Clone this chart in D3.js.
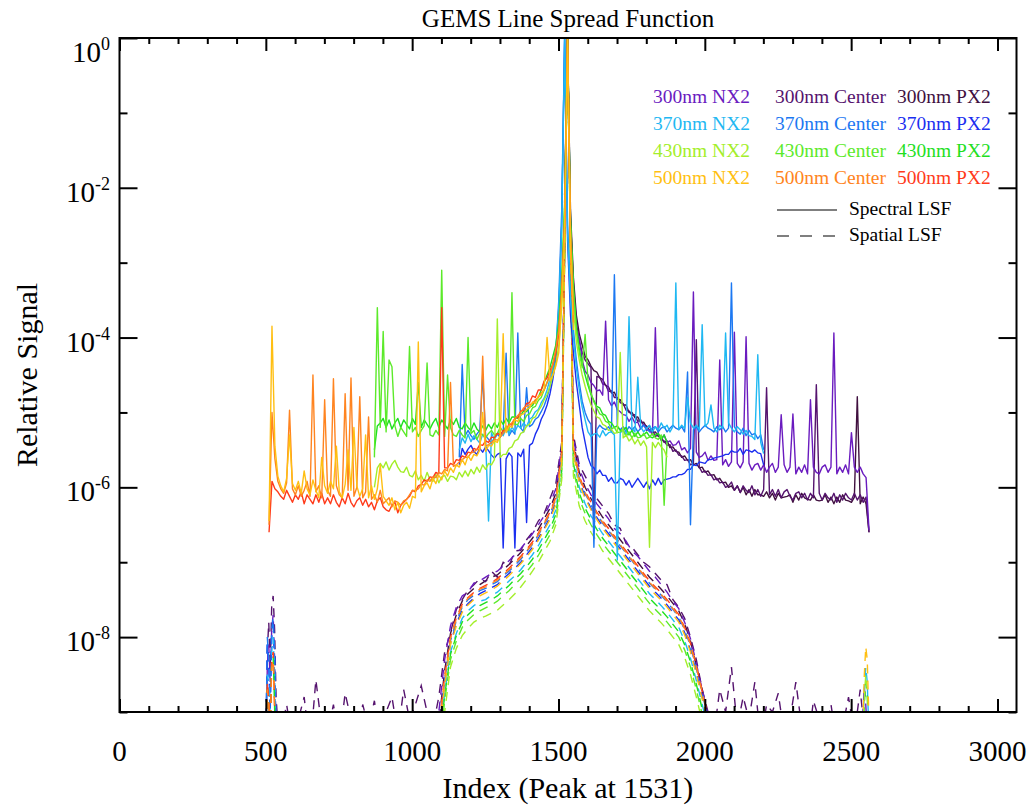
<!DOCTYPE html>
<html><head><meta charset="utf-8">
<script src="https://cdn.jsdelivr.net/npm/d3@7"></script>
<style>
body{margin:0;background:#fff}
text{font-family:"Liberation Serif","Times New Roman",serif}
</style></head>
<body><svg id="c" width="1027" height="805"></svg>
<script>
// ---------------- DATA (values are log10 of relative signal) ----------------
const xTickValues = [0,500,1000,1500,2000,2500,3000];
const yLabelExponents = [0,-2,-4,-6,-8];
const yTickExponents = [0,-1,-2,-3,-4,-5,-6,-7,-8,-9];
const wavelengths = ["300nm","370nm","430nm","500nm"];
const positions = ["NX2","Center","PX2"];
const specStep = 10;
const specStart = {"300nm":1521,"370nm":1161,"430nm":871,"500nm":511};
const spatStep = 20;
const spatStart = 1071;

const spec500NX2 = [
-6.45,-3.85,-5.45,-5.85,-5.98,-6.06,-5.88,-5.3,-5.95,-6.04,
-5.92,-6.08,-5.78,-6.02,-6.1,-5.9,-6.04,-6.14,-5.6,-5.98,
-6.08,-5.92,-6.02,-5.45,-6.06,-6.14,-5.96,-5.5,-6.04,-5.2,
-5.98,-6.12,-6.02,-5.3,-6.14,-5.98,-6.16,-6.02,-5.7,-6.12,
-6.18,-6.24,-6.14,-6.3,-6.2,-6.34,-6.24,-6.2,-6.28,-6.12,
-6.14,-4.06,-6.06,-5.98,-5.94,-6.02,-5.88,-5.95,-5.84,-5.9,
-5.78,-5.85,-5.74,-5.8,-5.7,-5.73,-5.63,-5.7,-5.58,-5.64,
-5.56,-5.58,-5.5,-5.0,-5.52,-5.44,-5.45,-5.38,-5.4,-5.3,
-3.95,-5.27,-5.18,-5.2,-5.1,-5.12,-5.03,-5.02,-4.96,-4.94,
-4.86,-4.88,-4.78,-4.77,-4.68,-4.0,-4.58,-4.5,-4.38,-4.2,
-3.5,-2.6,0,-2.8,-3.9];
const spec500Center = [
-6.5,-5.0,-5.62,-5.92,-6.02,-6.08,-5.94,-4.97,-6.02,-6.1,
-5.98,-6.12,-6.04,-5.92,-6.12,-4.5,-6.06,-5.98,-6.14,-4.83,
-6.04,-6.12,-4.55,-5.98,-6.1,-6.14,-4.75,-6.04,-4.54,-6.12,
-6.0,-4.79,-6.14,-6.06,-5.06,-6.16,-6.1,-6.2,-6.04,-6.22,
-6.18,-6.14,-6.26,-6.18,-6.2,-6.24,-6.18,-6.16,-6.1,-6.04,
-6.04,-6.02,-5.96,-5.97,-5.9,-5.92,-5.86,-5.87,-5.8,-5.82,
-5.76,-5.78,-4.6,-5.72,-5.7,-5.66,-5.63,-5.6,-5.6,-5.54,
-5.53,-5.49,-5.5,-4.25,-5.45,-5.43,-5.4,-5.36,-5.37,-5.33,
-5.28,-5.22,-5.17,-5.14,-5.08,-5.04,-5.0,-4.94,-4.92,-4.9,
-4.88,-4.83,-4.8,-4.74,-4.7,-4.6,-4.5,-4.35,-4.15,-3.9,
-3.4,-2.4,0,-2.6,-3.7];
const spec500PX2 = [
-6.6,-5.92,-6.02,-6.06,-6.12,-6.16,-6.04,-6.12,-6.2,-6.1,
-6.16,-6.06,-6.22,-6.1,-6.16,-6.22,-6.1,-6.2,-6.08,-6.22,
-6.14,-6.22,-6.1,-6.2,-6.26,-6.14,-6.22,-6.08,-6.2,-6.26,
-6.18,-6.14,-6.24,-6.16,-6.26,-6.2,-6.3,-6.18,-6.14,-6.26,
-6.3,-6.32,-6.24,-6.2,-6.34,-6.24,-6.2,-6.16,-6.12,-6.04,
-6.06,-5.98,-5.96,-5.9,-5.92,-5.86,-5.87,-5.8,-5.82,-3.6,
-5.74,-5.74,-5.68,-5.7,-5.63,-5.64,-5.58,-5.6,-5.53,-5.54,
-5.48,-5.5,-5.43,-5.44,-5.38,-5.4,-5.33,-5.34,-5.28,-5.3,
-5.24,-5.24,-5.16,-5.17,-5.08,-5.07,-4.98,-4.97,-4.88,-4.87,
-4.78,-4.8,-4.7,-4.7,-4.58,-4.54,-4.44,-4.36,-4.2,-3.95,
-3.4,-2.5,0,-2.7,-3.8];

const spec430NX2 = [
-6.0,-5.74,-5.68,-5.74,-5.66,-5.77,-5.69,-5.64,-5.73,-5.79,
-5.8,-5.73,-5.84,-5.86,-5.78,-5.9,-5.84,-5.92,-5.8,-5.9,
-5.92,-5.83,-5.94,-5.86,-5.84,-5.92,-5.85,-5.86,-5.9,-5.8,
-5.86,-5.78,-5.85,-5.76,-5.82,-5.73,-5.8,-5.7,-5.76,-5.68,
-5.7,-5.63,-3.75,-5.6,-5.56,-5.56,-5.48,-5.46,-5.38,-5.36,
-5.28,-5.26,-5.18,-5.16,-5.08,-5.06,-4.98,-4.92,-4.83,-4.76,
-4.65,-4.5,-4.35,-4.1,-3.6,-2.6,0,-2.7,-3.6,-4.05,
-4.3,-4.5,-4.65,-4.78,-4.9,-4.98,-5.06,-5.08,-5.16,-5.18,
-5.24,-5.23,-5.28,-5.27,-4.2,-5.34,-5.3,-5.38,-5.34,-5.42,
-5.36,-5.44,-5.38,-5.46,-6.8,-5.4,-5.47,-5.4,-5.46,-5.5,
-5.6];
const spec430Center = [
-5.6,-3.6,-5.2,-3.92,-5.26,-4.3,-4.39,-5.18,-5.32,-5.2,
-5.26,-5.32,-4.12,-5.26,-5.2,-5.32,-5.24,-5.18,-4.34,-5.3,
-5.32,-5.24,-5.3,-3.1,-5.32,-4.5,-5.2,-5.3,-5.32,-5.24,
-5.3,-5.34,-4.0,-5.28,-5.24,-5.36,-5.28,-5.3,-5.34,-5.28,
-5.24,-5.3,-5.28,-5.2,-5.26,-5.18,-5.24,-3.4,-5.16,-5.16,
-5.08,-5.12,-5.04,-5.02,-4.94,-4.92,-4.84,-4.8,-4.7,-4.6,
-4.5,-4.35,-4.2,-3.9,-3.3,-2.3,0,-2.5,-3.4,-3.9,
-4.2,-4.4,-3.96,-4.6,-4.74,-4.86,-4.94,-5.02,-5.04,-5.12,
-5.14,-5.22,-5.2,-5.27,-5.26,-5.23,-5.32,-5.26,-5.34,-5.28,
-5.34,-5.33,-5.28,-5.35,-5.33,-5.28,-5.34,-5.36,-5.3,-6.24,
-5.4];
const spec430PX2 = [
-5.5,-5.18,-5.14,-5.08,-5.2,-5.1,-5.22,-5.14,-5.08,-5.2,
-5.1,-5.16,-5.22,-5.08,-5.16,-4.6,-5.2,-5.1,-5.16,-5.22,
-5.14,-5.08,-5.2,-5.1,-5.16,-5.22,-5.1,-5.16,-5.08,-5.2,
-5.22,-5.14,-5.2,-5.24,-5.14,-5.22,-5.26,-5.18,-5.24,-5.16,
-5.22,-5.14,-5.2,-5.1,-5.16,-5.08,-5.14,-5.06,-5.06,-5.08,
-5.04,-4.98,-4.99,-4.93,-4.91,-4.84,-4.8,-4.7,-4.6,-4.5,
-4.4,-4.25,-4.1,-3.8,-3.2,-2.2,0,-2.4,-3.3,-3.85,
-4.15,-4.35,-4.5,-4.64,-4.76,-4.84,-4.92,-4.94,-5.02,-5.04,
-5.12,-5.14,-5.2,-5.18,-5.24,-5.23,-5.2,-5.3,-5.24,-5.32,
-5.26,-5.32,-5.3,-5.26,-5.32,-5.34,-5.3,-5.28,-5.36,-5.3,
-5.4];

const spec370NX2 = [
-5.5,-5.34,-5.41,-5.29,-5.39,-5.31,-5.36,-5.41,-5.29,-5.36,
-6.45,-5.27,-5.36,-5.29,-5.26,-5.31,-5.21,-5.29,-5.19,-5.26,
-5.17,-5.21,-5.14,-5.19,-5.09,-5.06,-4.99,-4.96,-4.87,-4.81,
-4.7,-4.55,-4.4,-4.15,-3.6,-2.5,0,-2.6,-3.5,-4.0,
-4.4,-4.7,-4.93,-5.1,-5.26,-5.32,-5.29,-5.28,-5.33,-5.24,
-5.31,-5.27,-5.26,-5.3,-6.97,-5.27,-5.24,-5.31,-3.72,-5.21,
-5.26,-4.53,-5.19,-5.26,-5.21,-5.17,-5.26,-5.19,-5.23,-5.14,
-5.21,-5.17,-5.26,-5.19,-3.27,-5.23,-5.17,-5.21,-4.8,-5.14,
-5.21,-5.17,-5.23,-3.83,-5.19,-5.14,-4.9,-5.21,-5.26,-5.17,
-5.21,-3.94,-5.14,-5.21,-5.26,-5.19,-5.23,-5.29,-5.24,-5.31,
-5.32,-5.36,-4.23,-5.4,-5.55];
const spec370Center = [
-5.6,-4.36,-5.31,-5.24,-5.31,-5.36,-5.29,-5.24,-4.5,-5.31,
-5.36,-5.41,-5.34,-5.29,-5.33,-5.27,-4.21,-5.31,-5.24,-5.29,
-3.94,-5.21,-5.26,-4.67,-5.19,-5.16,-5.09,-5.06,-4.99,-4.91,
-4.8,-4.65,-4.45,-4.2,-3.5,-2.3,0,-2.5,-3.4,-3.9,
-4.3,-4.6,-4.85,-5.0,-5.1,-5.16,-6.8,-5.23,-5.17,-5.21,
-5.23,-5.19,-5.26,-3.16,-5.19,-5.23,-5.19,-5.26,-5.19,-5.23,
-5.19,-5.26,-5.21,-5.17,-5.21,-5.26,-5.21,-5.19,-5.26,-5.21,
-5.19,-5.26,-5.21,-5.17,-5.21,-5.23,-5.19,-5.26,-4.46,-6.5,
-5.23,-5.19,-5.26,-5.21,-5.17,-5.21,-5.23,-5.26,-5.19,-5.23,
-5.19,-5.26,-5.21,-3.27,-5.19,-5.26,-5.29,-5.21,-5.31,-5.24,
-5.3,-5.28,-5.35,-5.3,-5.5];
const spec370PX2 = [
-5.7,-5.48,-5.56,-5.49,-5.44,-5.52,-5.56,-5.48,-5.53,-5.46,
-5.51,-5.57,-5.61,-5.56,-5.54,-6.81,-5.62,-5.54,-5.59,-6.81,
-5.54,-5.59,-5.49,-6.47,-5.44,-5.41,-5.29,-5.21,-5.09,-5.01,
-4.9,-4.75,-4.55,-4.3,-3.7,-2.5,0,-2.7,-3.7,-4.2,
-4.6,-4.9,-5.2,-5.4,-5.6,-5.71,-5.74,-5.82,-5.77,-5.84,
-5.84,-5.92,-5.87,-5.94,-5.94,-5.88,-5.9,-5.97,-5.91,-6.0,
-5.94,-5.88,-5.94,-6.0,-5.93,-6.02,-5.9,-5.97,-5.88,-5.96,
-5.9,-5.89,-5.88,-5.86,-5.86,-5.83,-5.83,-5.81,-5.76,-5.76,
-5.7,-5.71,-5.66,-5.67,-5.68,-5.63,-5.63,-5.61,-5.6,-5.59,
-5.58,-5.56,-5.56,-5.51,-5.53,-5.53,-5.48,-5.56,-5.5,-5.51,
-5.53,-5.5,-5.54,-5.55,-5.7];

const spec300NX2 = [
-2.3,0,-2.5,-3.4,-3.9,-4.0,-4.3,-4.45,-4.5,-4.6,
-4.64,-4.71,-4.7,-4.77,-3.78,-4.83,-4.91,-4.86,-4.96,-4.99,
-5.03,-5.04,-5.12,-5.06,-5.14,-5.13,-5.22,-5.16,-5.24,-5.23,
-5.3,-3.87,-5.28,-5.37,-5.3,-5.4,-5.38,-5.44,-5.43,-5.38,
-5.5,-5.47,-5.54,-5.48,-3.39,-5.53,-5.6,-5.58,-5.53,-5.64,
-5.58,-5.64,-5.63,-4.3,-5.7,-5.63,-5.72,-5.66,-3.93,-5.68,
-5.74,-5.66,-3.99,-5.68,-5.77,-5.7,-5.68,-5.77,-5.7,-5.8,
-5.73,-5.68,-5.8,-5.73,-5.03,-5.7,-5.8,-5.73,-5.02,-5.82,
-5.73,-5.8,-5.7,-5.82,-4.83,-5.73,-5.8,-5.82,-5.73,-5.7,
-5.8,-5.73,-3.94,-5.82,-5.73,-5.8,-5.7,-5.82,-5.27,-5.73,
-5.8,-5.73,-5.82,-5.87,-6.57];
const spec300Center = [
-2.2,0,-2.4,-3.3,-3.8,-4.05,-4.2,-4.3,-4.35,-4.4,
-6.57,-4.52,-4.53,-4.62,-4.63,-4.72,-4.71,-4.8,-4.8,-4.87,
-4.88,-4.97,-4.98,-5.04,-5.03,-5.12,-5.1,-5.17,-5.18,-5.24,
-5.23,-5.32,-5.3,-5.37,-5.38,-5.44,-5.43,-5.52,-5.5,-5.57,
-5.58,-5.64,-5.63,-5.7,-5.68,-4.03,-5.73,-5.8,-5.78,-5.84,
-5.83,-5.9,-5.88,-5.94,-5.93,-6.0,-5.98,-5.93,-6.04,-5.98,
-6.07,-5.98,-6.04,-6.07,-5.98,-6.1,-6.03,-6.12,-6.03,-4.67,
-6.1,-6.03,-6.12,-6.03,-6.14,-6.06,-6.03,-6.12,-6.17,-6.08,
-6.06,-6.14,-6.08,-6.17,-6.08,-6.14,-4.63,-6.08,-6.17,-6.08,
-6.14,-6.17,-6.08,-6.2,-6.1,-6.17,-6.08,-6.14,-6.17,-6.08,
-6.17,-6.1,-6.2,-6.13,-6.6];
const spec300PX2 = [
-2.1,0,-2.3,-3.2,-3.7,-3.95,-4.1,-4.25,-4.3,-4.38,
-4.44,-4.46,-4.54,-4.56,-4.64,-4.66,-4.74,-4.73,-4.82,-4.83,
-4.9,-4.9,-5.0,-5.0,-5.07,-5.06,-5.14,-5.13,-5.2,-5.18,
-5.27,-5.26,-5.32,-5.33,-5.4,-5.38,-5.47,-5.46,-5.52,-5.53,
-5.6,-5.58,-5.64,-5.63,-5.7,-5.68,-5.74,-5.73,-5.8,-5.78,
-5.84,-5.83,-5.9,-5.88,-5.94,-5.93,-6.0,-5.98,-6.04,-5.98,
-6.07,-6.0,-6.1,-6.03,-6.12,-6.03,-6.1,-6.1,-6.12,-6.06,
-6.14,-6.08,-6.17,-6.08,-6.14,-6.13,-6.12,-6.1,-6.2,-6.1,
-6.17,-6.08,-6.14,-6.16,-6.17,-6.1,-6.17,-6.18,-6.17,-6.1,
-6.2,-6.13,-6.22,-6.13,-6.2,-6.1,-6.17,-6.18,-6.2,-6.13,
-4.79,-6.22,-6.13,-6.22,-6.6];

// Spatial LSF (dashed), start 1071, step 20
const spat300NX2 = [
-9.4,-9.0,-8.3,-7.85,-7.6,-7.45,-7.4,-7.28,-7.25,-7.2,
-7.15,-7.12,-7.05,-6.98,-6.9,-6.82,-6.72,-6.62,-6.5,-6.38,
-6.22,-6.02,-5.45,0,-5.35,-5.75,-5.95,-6.1,-6.22,-6.32,
-6.42,-6.55,-6.62,-6.72,-6.85,-6.92,-7.02,-7.12,-7.2,-7.3,
-7.4,-7.52,-7.62,-7.8,-8.02,-8.35,-8.7,-9.05];
const spat300Center = [
-9.2,-8.8,-8.2,-7.94,-7.63,-7.5,-7.37,-7.3,-7.22,-7.26,
-7.12,-7.2,-7.0,-7.05,-6.85,-6.84,-6.7,-6.6,-6.45,-6.35,
-6.15,-5.95,-5.4,0,-5.3,-5.7,-5.85,-6.0,-6.15,-6.25,
-6.35,-6.5,-6.55,-6.75,-6.8,-6.9,-7.0,-7.06,-7.15,-7.24,
-7.3,-7.5,-7.6,-7.75,-8.0,-8.3,-8.7,-9.0];
const spat300PX2 = [
-9.5,-9.15,-8.45,-7.95,-7.7,-7.52,-7.42,-7.35,-7.3,-7.25,
-7.2,-7.17,-7.1,-7.03,-6.95,-6.87,-6.78,-6.68,-6.56,-6.42,
-6.28,-6.08,-5.5,0,-5.4,-5.8,-6.0,-6.15,-6.28,-6.4,
-6.5,-6.6,-6.7,-6.8,-6.9,-7.0,-7.1,-7.2,-7.28,-7.36,
-7.45,-7.55,-7.65,-7.82,-8.05,-8.38,-8.7,-9.05];
const spat370NX2 = [
-9.7,-9.45,-8.75,-8.2,-7.95,-7.75,-7.65,-7.58,-7.52,-7.5,
-7.44,-7.4,-7.33,-7.25,-7.18,-7.1,-7.0,-6.9,-6.78,-6.64,
-6.5,-6.3,-5.7,0,-5.6,-6.0,-6.22,-6.38,-6.5,-6.62,
-6.72,-6.82,-6.92,-7.02,-7.12,-7.22,-7.32,-7.42,-7.5,-7.58,
-7.67,-7.77,-7.87,-8.05,-8.28,-8.58,-8.9,-9.2];
const spat370Center = [
-9.6,-9.28,-8.58,-8.05,-7.78,-7.6,-7.5,-7.44,-7.38,-7.35,
-7.3,-7.26,-7.18,-7.12,-7.04,-6.96,-6.86,-6.76,-6.64,-6.5,
-6.36,-6.16,-5.6,0,-5.48,-5.88,-6.08,-6.24,-6.36,-6.48,
-6.58,-6.68,-6.78,-6.88,-6.98,-7.08,-7.18,-7.28,-7.36,-7.44,
-7.53,-7.63,-7.73,-7.9,-8.12,-8.42,-8.75,-9.08];
const spat370PX2 = [
-9.65,-9.32,-8.62,-8.08,-7.82,-7.64,-7.55,-7.48,-7.42,-7.38,
-7.34,-7.3,-7.22,-7.15,-7.08,-7.0,-6.9,-6.8,-6.68,-6.55,
-6.4,-6.2,-5.62,0,-5.52,-5.92,-6.12,-6.28,-6.4,-6.52,
-6.62,-6.72,-6.82,-6.92,-7.02,-7.12,-7.22,-7.32,-7.4,-7.48,
-7.57,-7.67,-7.77,-7.94,-8.17,-8.47,-8.8,-9.12];
const spat430NX2 = [
-9.9,-9.7,-9.0,-8.4,-8.15,-7.98,-7.88,-7.8,-7.75,-7.72,
-7.68,-7.64,-7.57,-7.5,-7.42,-7.33,-7.23,-7.12,-7.0,-6.86,
-6.72,-6.5,-5.9,0,-5.85,-6.25,-6.45,-6.6,-6.72,-6.85,
-6.95,-7.05,-7.15,-7.25,-7.35,-7.45,-7.55,-7.65,-7.73,-7.81,
-7.9,-8.0,-8.1,-8.27,-8.5,-8.8,-9.13,-9.45];
const spat430Center = [
-9.85,-9.55,-8.85,-8.3,-8.05,-7.87,-7.77,-7.7,-7.65,-7.61,
-7.57,-7.52,-7.45,-7.38,-7.3,-7.22,-7.13,-7.03,-6.91,-6.77,
-6.63,-6.43,-5.85,0,-5.75,-6.15,-6.35,-6.5,-6.63,-6.75,
-6.85,-6.95,-7.05,-7.15,-7.25,-7.35,-7.45,-7.55,-7.63,-7.71,
-7.8,-7.9,-8.0,-8.17,-8.4,-8.7,-9.03,-9.35];
const spat430PX2 = [
-9.78,-9.48,-8.78,-8.23,-7.98,-7.8,-7.7,-7.63,-7.58,-7.54,
-7.5,-7.45,-7.38,-7.31,-7.23,-7.15,-7.06,-6.96,-6.84,-6.7,
-6.56,-6.36,-5.78,0,-5.68,-6.08,-6.28,-6.43,-6.56,-6.68,
-6.78,-6.88,-6.98,-7.08,-7.18,-7.28,-7.38,-7.48,-7.56,-7.64,
-7.73,-7.83,-7.93,-8.1,-8.33,-8.63,-8.96,-9.28];
const spat500NX2 = [
-9.65,-9.35,-8.65,-8.1,-7.85,-7.67,-7.57,-7.5,-7.45,-7.41,
-7.37,-7.32,-7.25,-7.18,-7.1,-7.02,-6.93,-6.83,-6.71,-6.57,
-6.43,-6.23,-5.65,0,-5.55,-5.95,-6.15,-6.3,-6.43,-6.55,
-6.65,-6.75,-6.85,-6.95,-7.05,-7.15,-7.25,-7.35,-7.43,-7.51,
-7.6,-7.7,-7.8,-7.97,-8.2,-8.5,-8.83,-9.15];
const spat500Center = [
-9.58,-9.25,-8.55,-8.02,-7.76,-7.58,-7.48,-7.42,-7.36,-7.33,
-7.28,-7.24,-7.17,-7.1,-7.02,-6.94,-6.85,-6.75,-6.63,-6.48,
-6.35,-6.15,-5.58,0,-5.47,-5.87,-6.07,-6.22,-6.35,-6.47,
-6.57,-6.67,-6.77,-6.87,-6.97,-7.07,-7.17,-7.27,-7.35,-7.43,
-7.52,-7.62,-7.72,-7.89,-8.1,-8.4,-8.74,-9.06];
const spat500PX2 = [
-9.55,-9.22,-8.52,-8.0,-7.74,-7.56,-7.47,-7.4,-7.35,-7.31,
-7.27,-7.22,-7.15,-7.08,-7.0,-6.92,-6.83,-6.73,-6.61,-6.47,
-6.33,-6.13,-5.55,0,-5.45,-5.85,-6.05,-6.2,-6.33,-6.45,
-6.55,-6.65,-6.75,-6.85,-6.95,-7.05,-7.15,-7.25,-7.33,-7.41,
-7.5,-7.6,-7.7,-7.87,-8.08,-8.38,-8.72,-9.04];

// 300nm Center spatial noise floor (left starts 551, right starts 2031, step 20)
const spatFloorLeft300Center = [
-9.3,-8.9,-9.4,-9.1,-8.8,-9.5,-8.57,-9.2,-9.3,-8.9,
-9.4,-8.75,-9.1,-9.5,-8.9,-9.2,-8.85,-9.4,-9.0,-8.8,
-9.3,-8.7,-9.1,-8.9,-8.65,-9.0];
const spatFloorRight300Center = [
-9.3,-8.7,-9.0,-8.4,-9.2,-8.8,-9.1,-8.6,-9.4,-8.9,
-9.0,-8.75,-9.3,-9.1,-8.6,-9.2,-9.5,-8.85,-9.1,-9.3,
-8.9,-9.4,-9.2,-8.8,-9.3,-8.7,-9.5];

// Spatial LSF detector-edge segments
const edgeLeftIdx = [500,505,510,515,520,525,530,535,540,545];
const edgeRightIdx = [2535,2540,2545,2550,2555,2560,2565];
const edgeLeft = {
  "300nm NX2":   [-9.6,-8.4,-8.1,-8.6,-7.9,-7.7,-8.3,-9.2,-9.6,-9.8],
  "300nm Center":[-9.5,-8.2,-7.8,-8.4,-7.6,-7.45,-7.9,-8.8,-9.1,-9.3],
  "370nm NX2":   [-9.6,-8.5,-8.6,-9.1,-8.2,-8.0,-8.5,-9.4,-9.7,-9.9],
  "370nm Center":[-9.5,-8.0,-8.3,-8.9,-7.9,-7.75,-8.2,-9.2,-9.6,-9.8],
  "370nm PX2":   [-9.5,-8.1,-8.4,-9.0,-8.0,-7.85,-8.3,-9.3,-9.7,-9.8],
  "430nm PX2":   [-9.6,-8.7,-8.9,-9.3,-8.35,-8.25,-8.95,-9.6,-9.8,-9.9],
  "500nm Center":[-9.6,-8.7,-8.9,-9.3,-8.4,-8.3,-9.0,-9.6,-9.8,-9.9],
  "500nm PX2":   [-9.6,-8.6,-8.8,-9.2,-8.3,-8.2,-8.9,-9.5,-9.8,-9.9]
};
const edgeRight = {
  "300nm NX2": [-9.5,-9.0,-8.66,-8.9,-9.3,-9.7,-9.9],
  "370nm NX2": [-9.6,-9.3,-8.7,-8.4,-8.6,-9.2,-9.8],
  "430nm NX2": [-9.7,-9.3,-8.8,-8.5,-8.7,-9.1,-9.8],
  "430nm PX2": [-9.7,-9.4,-8.9,-8.6,-8.8,-9.3,-9.9],
  "500nm NX2": [-9.6,-9.2,-8.5,-8.13,-8.3,-9.0,-9.8]
};

const colors = {
  "300nm NX2":"#6a1bbf","300nm Center":"#55136e","300nm PX2":"#40103f",
  "370nm NX2":"#1fb8f2","370nm Center":"#1c78f2","370nm PX2":"#1b2ff0",
  "430nm NX2":"#a4ee2a","430nm Center":"#5cea2a","430nm PX2":"#1fe01f",
  "500nm NX2":"#ffbf12","500nm Center":"#ff8420","500nm PX2":"#ff3a1a"
};
const spectral = {
  "300nm NX2":spec300NX2,"300nm Center":spec300Center,"300nm PX2":spec300PX2,
  "370nm NX2":spec370NX2,"370nm Center":spec370Center,"370nm PX2":spec370PX2,
  "430nm NX2":spec430NX2,"430nm Center":spec430Center,"430nm PX2":spec430PX2,
  "500nm NX2":spec500NX2,"500nm Center":spec500Center,"500nm PX2":spec500PX2
};
const spatial = {
  "300nm NX2":spat300NX2,"300nm Center":spat300Center,"300nm PX2":spat300PX2,
  "370nm NX2":spat370NX2,"370nm Center":spat370Center,"370nm PX2":spat370PX2,
  "430nm NX2":spat430NX2,"430nm Center":spat430Center,"430nm PX2":spat430PX2,
  "500nm NX2":spat500NX2,"500nm Center":spat500Center,"500nm PX2":spat500PX2
};

// ---------------- DRAW ----------------
const svg = d3.select("#c");
const L = 119.5, R = 1016.5, T = 38, B = 712;
const x = d3.scaleLinear().domain([0,3065]).range([L,R]);
const y = d3.scaleLog().domain([1e-9,1]).range([B,T]);
const toPts = (start, step, vals) => vals.map((v,i)=>[start+step*i, Math.pow(10,v)]);
const line = d3.line().x(d=>x(d[0])).y(d=>y(d[1]));

svg.append("defs").append("clipPath").attr("id","clip")
  .append("rect").attr("x",L).attr("y",T).attr("width",R-L).attr("height",B-T);
const plot = svg.append("g").attr("clip-path","url(#clip)");

const drawOrder = [];
wavelengths.forEach(w => ["PX2","Center","NX2"].forEach(p => drawOrder.push(w+" "+p)));

// spatial (dashed)
drawOrder.forEach(name => {
  let pts = toPts(spatStart, spatStep, spatial[name]);
  if (name === "300nm Center") {
    pts = toPts(551, spatStep, spatFloorLeft300Center)
      .concat(pts)
      .concat(toPts(2031, spatStep, spatFloorRight300Center));
  }
  const segs = [pts];
  if (edgeLeft[name]) segs.push(edgeLeft[name].map((v,i)=>[edgeLeftIdx[i], Math.pow(10,v)]));
  if (edgeRight[name]) segs.push(edgeRight[name].map((v,i)=>[edgeRightIdx[i], Math.pow(10,v)]));
  segs.forEach(s => plot.append("path").attr("d", line(s))
    .attr("fill","none").attr("stroke", colors[name]).attr("stroke-width",1.4)
    .attr("stroke-dasharray","9,7"));
});
// spectral (solid)
drawOrder.forEach(name => {
  const w = name.split(" ")[0];
  plot.append("path").attr("d", line(toPts(specStart[w], specStep, spectral[name])))
    .attr("fill","none").attr("stroke", colors[name]).attr("stroke-width",1.4)
    .attr("stroke-linejoin","round");
});

// axes
const minorX = d3.range(0, 3001, 100).filter(v => v % 500 !== 0);
function tickLines(axis, vals, size, tr) {
  const g = svg.append("g").attr("transform", tr).call(axis.tickValues(vals).tickSize(size).tickFormat(""));
  g.select(".domain").remove();
  g.selectAll(".tick line").attr("stroke","#000").attr("stroke-width",2);
  return g;
}
tickLines(d3.axisBottom(x), xTickValues, -13, `translate(0,${B})`);
tickLines(d3.axisBottom(x), minorX, -6, `translate(0,${B})`);
tickLines(d3.axisTop(x), xTickValues, -13, `translate(0,${T})`);
tickLines(d3.axisTop(x), minorX, -6, `translate(0,${T})`);
const evenY = yTickExponents.filter(e => e % 2 === 0).map(e => Math.pow(10,e));
const oddY = yTickExponents.filter(e => e % 2 !== 0).map(e => Math.pow(10,e));
tickLines(d3.axisLeft(y), evenY, -18, `translate(${L},0)`);
tickLines(d3.axisLeft(y), oddY, -8, `translate(${L},0)`);
tickLines(d3.axisRight(y), evenY, -18, `translate(${R},0)`);
tickLines(d3.axisRight(y), oddY, -8, `translate(${R},0)`);

svg.append("rect").attr("x",L).attr("y",T).attr("width",R-L).attr("height",B-T)
  .attr("fill","none").attr("stroke","#000").attr("stroke-width",2);

// x labels
xTickValues.forEach(v => svg.append("text").attr("x", x(v)).attr("y", 761)
  .attr("text-anchor","middle").attr("font-size",29).text(v));
// y labels
yLabelExponents.forEach(e => {
  const ty = y(Math.pow(10,e)) + (e === 0 ? 24 : 14);
  const t = svg.append("text").attr("x",110).attr("y",ty).attr("text-anchor","end").attr("font-size",29);
  t.append("tspan").text("10");
  t.append("tspan").attr("dy",-12).attr("font-size",18).text(String(e));
});

// titles
svg.append("text").attr("x",568).attr("y",27).attr("text-anchor","middle").attr("font-size",25)
  .text("GEMS Line Spread Function");
svg.append("text").attr("x",568).attr("y",798).attr("text-anchor","middle").attr("font-size",30)
  .text("Index (Peak at 1531)");
svg.append("text").attr("transform","translate(37,375) rotate(-90)").attr("text-anchor","middle")
  .attr("font-size",30).text("Relative Signal");

// legend
const colX = [653, 775, 897];
const rowY = [103, 130, 157, 184];
wavelengths.forEach((w,ri) => positions.forEach((p,ci) => {
  svg.append("text").attr("x",colX[ci]).attr("y",rowY[ri]).attr("font-size",19.5)
    .attr("fill", colors[w+" "+p]).text(w+" "+p);
}));
svg.append("line").attr("x1",777).attr("x2",837).attr("y1",210).attr("y2",210)
  .attr("stroke","#555").attr("stroke-width",1.3);
svg.append("text").attr("x",849).attr("y",215).attr("font-size",19.5).text("Spectral LSF");
svg.append("line").attr("x1",777).attr("x2",837).attr("y1",236).attr("y2",236)
  .attr("stroke","#555").attr("stroke-width",1.3).attr("stroke-dasharray","12,11");
svg.append("text").attr("x",849).attr("y",241).attr("font-size",19.5).text("Spatial LSF");
</script></body></html>
